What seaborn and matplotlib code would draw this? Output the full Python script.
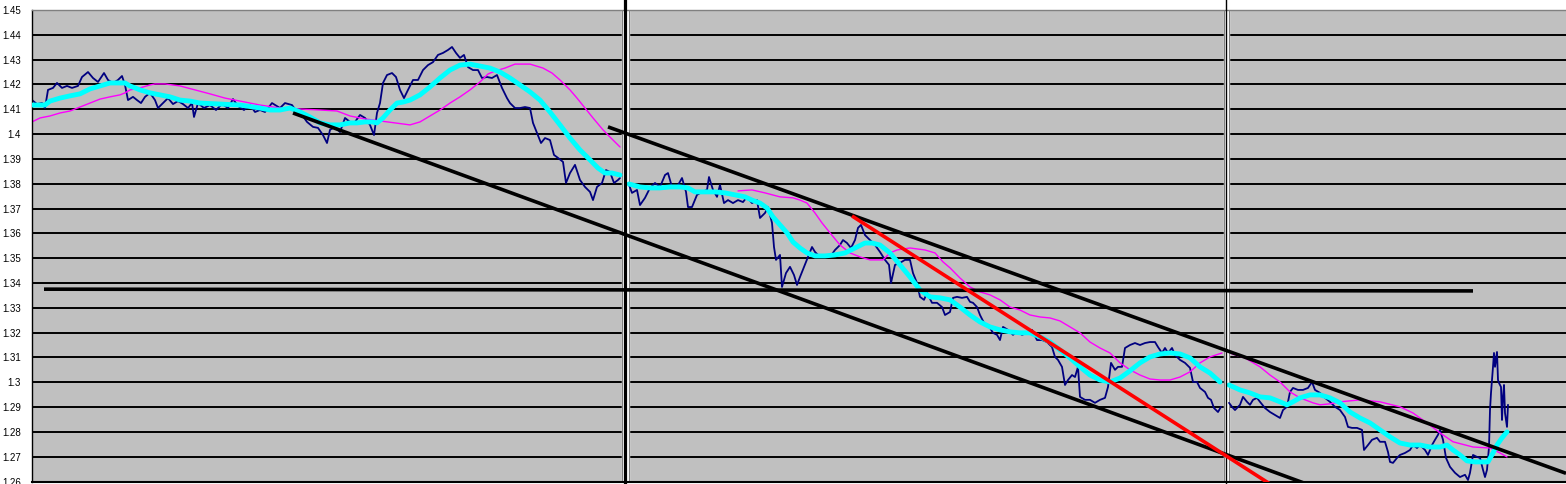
import numpy as np
import pandas as pd
import matplotlib
matplotlib.use("Agg")
import matplotlib.pyplot as plt
import seaborn as sns

# ==============================
# DATA (price index positions and quotes)
# ==============================

# panel 1
p1_t = [32, 37, 42, 45, 48, 53, 57, 62, 67, 72, 78, 82, 88, 93, 98, 104, 108, 113, 118, 122,
        125, 128, 133, 137, 141, 145, 150, 155, 158, 163, 168, 173, 178, 183, 188, 192, 194, 198,
        204, 210, 216, 222, 228, 233, 238, 244, 250, 255, 260, 265, 272, 280, 285, 292, 297, 302,
        307, 313, 318, 323, 327, 330, 335, 340, 345, 350, 355, 360, 365, 370, 374, 377, 380, 383,
        387, 392, 396, 400, 404, 408, 413, 418, 423, 428, 433, 438, 443, 448, 452, 456, 460, 464,
        468, 473, 478, 482, 487, 492, 497, 502, 507, 510, 515, 520, 525, 530, 533, 537, 541, 545,
        550, 554, 558, 563, 566, 570, 575, 580, 585, 590, 593, 597, 602, 606, 610, 614, 618, 620]
p1_price = [1.4137, 1.4121, 1.4125, 1.4105, 1.4178, 1.4186, 1.4206, 1.4186, 1.4194, 1.4186,
            1.4194, 1.4230, 1.4250, 1.4226, 1.4210, 1.4246, 1.4218, 1.4206, 1.4218, 1.4234,
            1.4198, 1.4137, 1.4150, 1.4137, 1.4125, 1.4150, 1.4166, 1.4137, 1.4105, 1.4125,
            1.4145, 1.4121, 1.4133, 1.4121, 1.4105, 1.4125, 1.4069, 1.4125,
            1.4105, 1.4117, 1.4097, 1.4121, 1.4105, 1.4141, 1.4113, 1.4097, 1.4117, 1.4089,
            1.4097, 1.4089, 1.4125, 1.4105, 1.4125, 1.4117, 1.4089, 1.4077, 1.4049, 1.4029,
            1.4025, 1.3996, 1.3964, 1.4017, 1.4029, 1.4008, 1.4065, 1.4049, 1.4049, 1.4077,
            1.4065, 1.4037, 1.3996, 1.4085, 1.4125, 1.4206, 1.4238, 1.4246, 1.4230, 1.4178,
            1.4145, 1.4178, 1.4218, 1.4218, 1.4258, 1.4278, 1.4290, 1.4319, 1.4327, 1.4339,
            1.4351, 1.4327, 1.4307, 1.4319, 1.4270, 1.4258, 1.4258, 1.4226, 1.4230, 1.4226,
            1.4238, 1.4186, 1.4145, 1.4125, 1.4105, 1.4105, 1.4109, 1.4105, 1.4045, 1.4004,
            1.3964, 1.3984, 1.3976, 1.3916, 1.3904, 1.3888, 1.3803, 1.3843, 1.3876, 1.3815,
            1.3787, 1.3767, 1.3734, 1.3787, 1.3803, 1.3855, 1.3847, 1.3803, 1.3815, 1.3823]

p1_fast_t = [32, 45, 50, 60, 70, 80, 90, 100, 110, 120, 125, 130, 140, 150, 160, 170, 180, 190,
             200, 220, 240, 260, 270, 280, 290, 300, 310, 320, 330, 340, 350, 357, 365, 372, 377,
             383, 390, 397, 403, 410, 420, 430, 440, 450, 460, 470, 480, 490, 500, 510, 520, 530,
             540, 550, 560, 570, 580, 590, 598, 605, 612, 620]
p1_fast = [1.4117, 1.4117, 1.4133, 1.4145, 1.4154, 1.4162, 1.4182, 1.4194, 1.4206, 1.4206,
           1.4206, 1.4194, 1.4178, 1.4166, 1.4158, 1.4150, 1.4137, 1.4133, 1.4125, 1.4121,
           1.4117, 1.4105, 1.4097, 1.4097, 1.4105, 1.4089, 1.4069, 1.4045, 1.4037, 1.4037,
           1.4045, 1.4045, 1.4049, 1.4049, 1.4045, 1.4065, 1.4097, 1.4125, 1.4129, 1.4137,
           1.4158, 1.4190, 1.4226, 1.4258, 1.4278, 1.4282, 1.4274, 1.4266, 1.4250, 1.4226,
           1.4198, 1.4170, 1.4137, 1.4089, 1.4037, 1.3984, 1.3936, 1.3896, 1.3863, 1.3843,
           1.3843, 1.3835]

p1_slow_t = [32, 40, 50, 60, 70, 80, 90, 100, 110, 120, 125, 130, 140, 150, 155, 165, 180, 195,
             210, 225, 240, 260, 280, 300, 320, 337, 350, 365, 380, 395, 410, 420, 430, 440, 450,
             460, 470, 480, 488, 495, 505, 515, 530, 543, 552, 560, 570, 577, 585, 593, 603, 610,
             620]
p1_slow = [1.4049, 1.4065, 1.4073, 1.4085, 1.4093, 1.4109, 1.4125, 1.4141, 1.4150, 1.4158,
           1.4166, 1.4178, 1.4186, 1.4198, 1.4202, 1.4202, 1.4194, 1.4178, 1.4162, 1.4145,
           1.4133, 1.4117, 1.4105, 1.4101, 1.4097, 1.4093, 1.4073, 1.4061, 1.4053, 1.4045,
           1.4037, 1.4049, 1.4073, 1.4097, 1.4125, 1.4150, 1.4178, 1.4210, 1.4242, 1.4254,
           1.4266, 1.4282, 1.4282, 1.4266, 1.4246, 1.4218, 1.4178, 1.4145, 1.4105, 1.4065,
           1.4017, 1.3988, 1.3948]

# panel 2
p2_t = [629, 632, 637, 640, 645, 650, 655, 660, 665, 668, 672, 677, 682, 686, 688, 692, 697, 702,
        707, 709, 713, 717, 720, 724, 728, 733, 738, 743, 747, 752, 757, 760, 765, 768, 772, 774,
        776, 780, 782, 786, 790, 794, 797, 800, 804, 808, 812, 815, 820, 825, 830, 835, 840, 843,
        847, 851, 855, 858, 861, 865, 870, 875, 880, 885, 889, 891, 895, 900, 905, 910, 913, 917,
        920, 924, 927, 932, 937, 942, 945, 950, 953, 957, 962, 967, 970, 973, 977, 980, 985, 990,
        993, 997, 1000, 1003, 1008, 1013, 1017, 1022, 1027, 1032, 1037, 1042, 1047, 1052, 1055,
        1058, 1062, 1065, 1068, 1072, 1075, 1078, 1080, 1085, 1090, 1095, 1100, 1105, 1108, 1111,
        1115, 1118, 1122, 1125, 1130, 1135, 1140, 1145, 1150, 1155, 1158, 1162, 1165, 1168, 1172,
        1175, 1180, 1185, 1190, 1193, 1197, 1200, 1205, 1208, 1211, 1214, 1218, 1221]
p2_price = [1.3795, 1.3763, 1.3775, 1.3714, 1.3743, 1.3783, 1.3803, 1.3787, 1.3835, 1.3843,
            1.3787, 1.3787, 1.3823, 1.3767, 1.3706, 1.3706, 1.3755, 1.3767, 1.3775, 1.3827,
            1.3775, 1.3747, 1.3795, 1.3722, 1.3734, 1.3722, 1.3734, 1.3726, 1.3747, 1.3722,
            1.3734, 1.3662, 1.3682, 1.3706, 1.3642, 1.3545, 1.3493, 1.3513, 1.3384, 1.3440,
            1.3465, 1.3432, 1.3392, 1.3424, 1.3465, 1.3505, 1.3545, 1.3525, 1.3505, 1.3513,
            1.3505, 1.3533, 1.3553, 1.3573, 1.3561, 1.3541, 1.3573, 1.3622, 1.3634, 1.3593,
            1.3573, 1.3553, 1.3525, 1.3493, 1.3473, 1.3400, 1.3473, 1.3481, 1.3493, 1.3493,
            1.3440, 1.3400, 1.3344, 1.3332, 1.3360, 1.3320, 1.3320, 1.3303, 1.3271, 1.3283,
            1.3340, 1.3344, 1.3340, 1.3344, 1.3324, 1.3320, 1.3303, 1.3271, 1.3231, 1.3219,
            1.3199, 1.3191, 1.3170, 1.3223, 1.3211, 1.3191, 1.3203, 1.3191, 1.3199, 1.3211,
            1.3170, 1.3170, 1.3162, 1.3142, 1.3102, 1.3090, 1.3062, 1.2989, 1.3009, 1.3029,
            1.3021, 1.3062, 1.2941, 1.2929, 1.2929, 1.2917, 1.2929, 1.2937, 1.2981, 1.3078,
            1.3050, 1.3062, 1.3062, 1.3138, 1.3150, 1.3158, 1.3150, 1.3158, 1.3162, 1.3162,
            1.3142, 1.3118, 1.3138, 1.3118, 1.3138, 1.3110, 1.3090, 1.3078, 1.3058, 1.3001,
            1.3001, 1.2977, 1.2961, 1.2937, 1.2929, 1.2896, 1.2880, 1.2901]

p2_fast_t = [629, 640, 650, 660, 670, 680, 688, 695, 705, 715, 725, 735, 745, 752, 760, 767, 773,
             780, 787, 793, 800, 807, 815, 825, 835, 845, 855, 865, 872, 880, 890, 900, 910, 920,
             930, 940, 950, 960, 970, 980, 990, 1000, 1010, 1020, 1030, 1040, 1050, 1060, 1070,
             1080, 1090, 1100, 1110, 1120, 1130, 1140, 1150, 1160, 1170, 1180, 1190, 1200, 1210,
             1220]
p2_fast = [1.3799, 1.3787, 1.3783, 1.3783, 1.3787, 1.3787, 1.3783, 1.3767, 1.3767, 1.3767,
           1.3763, 1.3755, 1.3747, 1.3734, 1.3722, 1.3702, 1.3666, 1.3634, 1.3602, 1.3565,
           1.3541, 1.3521, 1.3509, 1.3509, 1.3513, 1.3521, 1.3541, 1.3561, 1.3561, 1.3553,
           1.3521, 1.3473, 1.3424, 1.3372, 1.3344, 1.3340, 1.3332, 1.3303, 1.3271, 1.3243,
           1.3223, 1.3211, 1.3203, 1.3199, 1.3199, 1.3183, 1.3162, 1.3130, 1.3098, 1.3062,
           1.3029, 1.3009, 1.3001, 1.3017, 1.3046, 1.3078, 1.3102, 1.3114, 1.3118, 1.3114,
           1.3098, 1.3062, 1.3037, 1.3001]

p2_slow_t = [738, 752, 765, 780, 793, 800, 807, 815, 822, 830, 840, 850, 860, 870, 883, 890, 897,
             910, 925, 935, 943, 950, 960, 970, 980, 990, 1000, 1010, 1020, 1030, 1040, 1050,
             1060, 1070, 1080, 1090, 1100, 1110, 1120, 1130, 1140, 1150, 1160, 1170, 1180, 1190,
             1200, 1210, 1222]
p2_slow = [1.3771, 1.3775, 1.3763, 1.3747, 1.3743, 1.3734, 1.3722, 1.3682, 1.3642, 1.3602,
           1.3553, 1.3521, 1.3505, 1.3493, 1.3493, 1.3521, 1.3533, 1.3541, 1.3533, 1.3521,
           1.3485, 1.3461, 1.3420, 1.3384, 1.3364, 1.3352, 1.3332, 1.3303, 1.3291, 1.3271,
           1.3263, 1.3259, 1.3247, 1.3223, 1.3199, 1.3162, 1.3138, 1.3118, 1.3078, 1.3050,
           1.3029, 1.3013, 1.3009, 1.3009, 1.3021, 1.3042, 1.3078, 1.3102, 1.3118]

# panel 3
p3_t = [1229, 1232, 1235, 1240, 1243, 1247, 1250, 1253, 1257, 1260, 1265, 1270, 1275, 1280, 1283,
        1287, 1290, 1293, 1298, 1303, 1308, 1312, 1315, 1320, 1325, 1330, 1335, 1340, 1345, 1348,
        1352, 1357, 1362, 1364, 1368, 1372, 1377, 1380, 1385, 1388, 1390, 1393, 1397, 1400, 1405,
        1410, 1413, 1417, 1420, 1425, 1428, 1432, 1435, 1438, 1440, 1443, 1446, 1450, 1455, 1460,
        1465, 1468, 1470, 1473, 1477, 1480, 1483, 1485, 1487, 1489, 1490, 1491, 1493, 1494, 1495,
        1497, 1498, 1499, 1501, 1502, 1503, 1504, 1505, 1507, 1508]
p3_price = [1.2917, 1.2901, 1.2888, 1.2909, 1.2941, 1.2921, 1.2909, 1.2929, 1.2937, 1.2921,
            1.2896, 1.2880, 1.2868, 1.2856, 1.2888, 1.2901, 1.2961, 1.2977, 1.2969, 1.2969,
            1.2977, 1.3001, 1.2969, 1.2957, 1.2937, 1.2921, 1.2901, 1.2888, 1.2860, 1.2820,
            1.2816, 1.2816, 1.2808, 1.2727, 1.2747, 1.2768, 1.2776, 1.2760, 1.2760, 1.2719,
            1.2679, 1.2675, 1.2695, 1.2707, 1.2715, 1.2727, 1.2747, 1.2735, 1.2747, 1.2727,
            1.2707, 1.2747, 1.2768, 1.2788, 1.2808, 1.2768, 1.2695, 1.2659, 1.2635, 1.2618,
            1.2627, 1.2606, 1.2635, 1.2707, 1.2699, 1.2695, 1.2647, 1.2618, 1.2647, 1.2739,
            1.2888, 1.2957, 1.3062, 1.3118, 1.3062, 1.3122, 1.3009, 1.2997, 1.2981, 1.2848,
            1.2941, 1.2989, 1.2876, 1.2820, 1.2909]

p3_fast_t = [1229, 1240, 1250, 1260, 1270, 1280, 1287, 1293, 1300, 1310, 1320, 1330, 1340, 1350,
             1360, 1370, 1380, 1390, 1400, 1410, 1420, 1430, 1440, 1447, 1453, 1460, 1467, 1475,
             1483, 1488, 1493, 1497, 1502, 1507]
p3_fast = [1.2989, 1.2969, 1.2957, 1.2941, 1.2937, 1.2921, 1.2909, 1.2921, 1.2937, 1.2949,
           1.2949, 1.2937, 1.2917, 1.2880, 1.2856, 1.2836, 1.2808, 1.2780, 1.2755, 1.2747,
           1.2747, 1.2739, 1.2739, 1.2747, 1.2727, 1.2707, 1.2683, 1.2679, 1.2679, 1.2679,
           1.2715, 1.2747, 1.2776, 1.2800]

p3_slow_t = [1232, 1245, 1260, 1270, 1280, 1290, 1300, 1313, 1320, 1330, 1340, 1360, 1380, 1400,
             1413, 1427, 1440, 1453, 1473, 1490, 1500, 1507]
p3_slow = [1.3114, 1.3098, 1.3062, 1.3029, 1.3001, 1.2961, 1.2937, 1.2917, 1.2909, 1.2913,
           1.2921, 1.2929, 1.2921, 1.2901, 1.2876, 1.2836, 1.2796, 1.2760, 1.2739, 1.2735,
           1.2715, 1.2699]

# hand-drawn trend lines (start/end)
lower_channel_t = [293, 1310]
lower_channel = [1.4085, 1.2585]
upper_channel_t = [608, 1566]
upper_channel = [1.4029, 1.2633]
support_t = [44, 1473]
support = [1.3375, 1.3368]
red_t = [852, 1270]
red_line = [1.3670, 1.2590]

# panel gaps (white separators between the three charts)
gaps = [(622, 629), (1224, 1229)]
y_levels = np.round(np.arange(1.26, 1.4501, 0.01), 2)

# ==============================
# FIGURE
# ==============================

sns.set_style("white")
plt.rcParams['font.family'] = ['Liberation Sans', 'DejaVu Sans']

W, H = 1566, 484
fig = plt.figure(figsize=(W / 100, H / 100), dpi=100)
ax = fig.add_axes([32 / W, 1 - 481.5 / H, (W - 32) / W, (481.5 - 10) / H])
ax.set_facecolor("#C0C0C0")
ax.set_xlim(32, W)
ax.set_ylim(1.26, 1.45)

# horizontal grid
for lv in y_levels[1:-1]:
    ax.axhline(lv, color="black", lw=1.4, zorder=0.5)

# separators
for a, b in gaps:
    ax.axvspan(a, b, ymin=0, ymax=1.03, color="white", zorder=1, clip_on=False)
    ax.axvline(a, color="#808080", lw=0.8, zorder=1.1)
    ax.axvline(b, color="#808080", lw=0.8, zorder=1.1)
ax.axvline(624.5, ymin=-0.01, ymax=1.03, color="black", lw=2.3, zorder=4, clip_on=False)
ax.axvline(1226, ymin=-0.01, ymax=1.03, color="black", lw=1.0, zorder=4, clip_on=False)

# price and moving averages
for t, v in [(p1_t, p1_price), (p2_t, p2_price), (p3_t, p3_price)]:
    sns.lineplot(x=t, y=v, ax=ax, color="#000080", lw=1.3, zorder=2)
for t, v in [(p1_slow_t, p1_slow), (p2_slow_t, p2_slow), (p3_slow_t, p3_slow)]:
    sns.lineplot(x=t, y=v, ax=ax, color="#FF00FF", lw=1.0, zorder=2.5)
for t, v in [(p1_fast_t, p1_fast), (p2_fast_t, p2_fast), (p3_fast_t, p3_fast)]:
    sns.lineplot(x=t, y=v, ax=ax, color="#00FFFF", lw=3.5, zorder=3)

# trend lines
for t, v, c in [(lower_channel_t, lower_channel, "black"),
                (upper_channel_t, upper_channel, "black"),
                (support_t, support, "black"),
                (red_t, red_line, "#FF0000")]:
    ax.plot(t, v, color=c, lw=2.6, zorder=5, solid_capstyle="butt")

# axes look
ax.set_yticks(y_levels)
ax.set_yticklabels([f"{v:g}" for v in y_levels])
ax.set_xticks(np.arange(32, 600, 67.3))
ax.tick_params(axis="y", length=3, width=0.8, pad=5, labelsize=7, colors="black")
ax.tick_params(axis="x", length=3, width=0.8, labelbottom=False, colors="#606060")
ax.set_xlabel("")
ax.set_ylabel("")
ax.spines["left"].set_color("black")
ax.spines["left"].set_linewidth(1.0)
ax.spines["bottom"].set_color("black")
ax.spines["bottom"].set_linewidth(1.5)
ax.spines["top"].set_color("#808080")
ax.spines["top"].set_linewidth(1.0)
ax.spines["right"].set_visible(False)

fig.savefig("out.png", dpi=100)
